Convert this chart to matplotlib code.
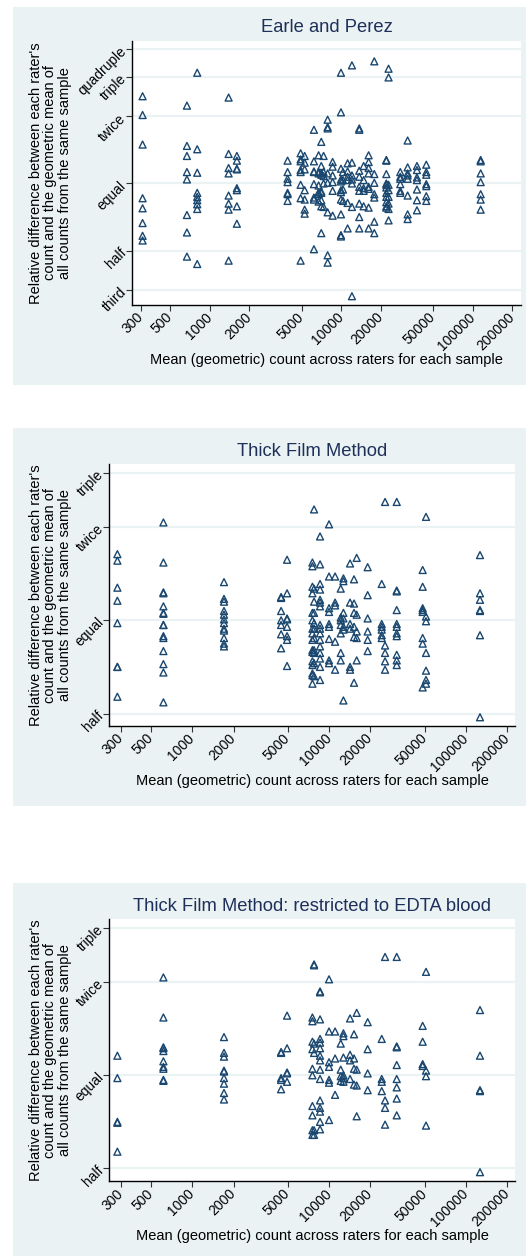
import numpy as np
import matplotlib
matplotlib.use('Agg')
import matplotlib.pyplot as plt
from matplotlib.patches import Rectangle
from matplotlib.ticker import FixedLocator, FixedFormatter, NullLocator

plt.rcParams['font.family'] = ['Liberation Sans', 'DejaVu Sans']

# ---------------- data ----------------
x_ticks = [300, 500, 1000, 2000, 5000, 10000, 20000, 50000, 100000, 200000]

ep_tick_ratios = [1/3, 1/2, 1, 2, 3, 4]
ep_tick_labels = ['third', 'half', 'equal', 'twice', 'triple', 'quadruple']
tf_tick_ratios = [1/2, 1, 2, 3]
tf_tick_labels = ['half', 'equal', 'twice', 'triple']

# Earle and Perez: sample geometric mean count and log2(rater count / geometric mean)
ep_counts = [307, 668, 800, 1387, 1603, 3900, 4900, 5260, 6190, 6720, 7040, 7330,
             7870, 8590, 9940, 10300, 11170, 12050, 13700, 14790, 16140, 17830,
             22020, 22900, 28120, 31990, 37670, 44360, 115100]
ep_log2 = [
    [1.30, 1.02, 0.58, -0.22, -0.37, -0.59, -0.78, -0.85],
    [1.16, 0.56, 0.41, 0.17, 0.06, -0.47, -0.73, -1.09],
    [1.65, 0.51, 0.16, -0.14, -0.20, -0.25, -0.31, -0.38, -1.20],
    [1.28, 0.44, 0.23, 0.15, -0.18, -0.30, -0.39, -1.15],
    [0.41, 0.34, 0.22, 0.21, -0.07, -0.10, -0.34, -0.60],
    [0.34, 0.17, 0.07, 0.02, -0.14, -0.16, -0.26],
    [0.45, 0.36, 0.33, 0.20, 0.17, -0.02, -0.22, -1.15],
    [0.41, 0.31, 0.21, -0.10, -0.24, -0.39, -0.45],
    [0.80, 0.33, 0.18, 0.17, -0.01, -0.21, -0.24, -0.98],
    [0.42, 0.17, 0.15, -0.03, -0.13, -0.16, -0.27],
    [0.62, 0.26, 0.15, 0.13, -0.12, -0.14, -0.25, -0.34, -0.74],
    [0.41, 0.17, 0.11, 0.00, -0.35],
    [0.95, 0.84, 0.82, 0.15, 0.01, -0.43, -1.07, -1.18],
    [0.32, 0.25, 0.12, 0.02, -0.11, -0.48],
    [1.65, 1.06, 0.22, 0.06, 0.03, -0.10, -0.13, -0.24, -0.46, -0.77, -0.79],
    [0.17, 0.05, -0.09, -0.26],
    [0.30, 0.18, 0.10, 0.05, -0.29, -0.67],
    [1.76, 0.31, 0.12, 0.06, 0.00, -0.35, -1.68],
    [0.82, 0.80, 0.19, 0.10, -0.05, -0.11, -0.30, -0.50, -0.67],
    [0.26, 0.05, -0.07, -0.11, -0.34],
    [0.42, 0.32, 0.23, 0.15, -0.05, -0.08, -0.36, -0.67],
    [1.82, 0.14, 0.01, -0.16, -0.21, -0.57, -0.74],
    [0.35, 0.34, 0.14, 0.00, -0.02, -0.06, -0.14, -0.20, -0.28, -0.34, -0.36],
    [1.71, 1.58, -0.02, -0.10, -0.20, -0.30, -0.38, -0.55],
    [0.17, 0.10, 0.07, -0.01, -0.11, -0.14],
    [0.64, 0.24, 0.15, 0.12, 0.07, -0.18, -0.46, -0.53],
    [0.26, 0.20, 0.09, 0.05, -0.09, -0.25, -0.40],
    [0.28, 0.17, 0.13, -0.01, -0.04, -0.19, -0.26],
    [0.35, 0.33, 0.15, 0.02, -0.16, -0.24, -0.39],
]

# Thick film method
tf_counts = [283, 614, 1702, 4450, 4920, 7540, 7750, 8570, 9970, 11040, 12140, 12700,
             14200, 15180, 15880, 19100, 24200, 25600, 31150, 48200, 51000, 126500]
tf_log2 = [
    [0.71, 0.64, 0.35, 0.21, -0.03, -0.50, -0.50, -0.82],
    [1.05, 0.62, 0.30, 0.29, 0.15, 0.08, 0.07, -0.05, -0.05, -0.17, -0.19, -0.33, -0.47, -0.56, -0.88],
    [0.41, 0.23, 0.20, 0.10, 0.06, 0.01, -0.03, -0.09, -0.11, -0.19, -0.25, -0.28],
    [0.25, 0.24, 0.10, 0.00, -0.05, -0.15, -0.30],
    [0.65, 0.29, 0.02, 0.01, -0.07, -0.17, -0.21, -0.49],
    [0.62, 0.58, 0.36, 0.29, 0.08, 0.00, -0.09, -0.14, -0.21, -0.32, -0.34, -0.44, -0.48, -0.57, -0.59, -0.68],
    [1.19, 0.34, 0.20, 0.08, -0.03, -0.09, -0.19, -0.32, -0.35, -0.46, -0.60],
    [0.90, 0.60, 0.39, 0.33, 0.22, 0.19, 0.15, -0.05, -0.09, -0.14, -0.21, -0.28, -0.35, -0.41, -0.50, -0.64],
    [1.03, 0.47, 0.13, 0.09, -0.04, -0.07, -0.20, -0.43, -0.46],
    [0.47, 0.19, 0.16, -0.23, -0.53],
    [0.34, 0.03, 0.00, -0.05, -0.14, -0.35, -0.43],
    [0.45, 0.42, 0.08, 0.02, -0.07, -0.10, -0.86],
    [0.61, 0.19, -0.04, -0.09, -0.50, -0.53],
    [0.44, 0.18, 0.08, -0.07, -0.18, -0.67],
    [0.67, 0.06, -0.12, -0.19, -0.43],
    [0.57, 0.27, 0.02, -0.12, -0.21, -0.33],
    [0.39, -0.04, -0.07, -0.10, -0.16, -0.19],
    [1.27, -0.27, -0.35, -0.44, -0.53],
    [1.27, 0.32, 0.31, 0.11, -0.04, -0.07, -0.14, -0.17, -0.37, -0.43, -0.48],
    [0.54, 0.36, 0.13, 0.11, 0.09, -0.19, -0.25, -0.72],
    [1.11, 0.04, -0.01, -0.35, -0.54, -0.64, -0.68],
    [0.70, 0.29, 0.22, 0.11, 0.10, -0.16, -1.04],
]

# Thick film method restricted to EDTA blood
edta_counts = tf_counts
edta_log2 = [
    [0.21, -0.03, -0.50, -0.51, -0.82],
    [1.05, 0.62, 0.30, 0.29, 0.26, 0.15, 0.09, 0.07, -0.05, -0.06],
    [0.41, 0.24, 0.20, 0.05, 0.04, -0.03, -0.09, -0.19, -0.26],
    [0.25, 0.24, -0.03, -0.05, -0.15],
    [0.64, 0.29, 0.03, 0.02, -0.07],
    [0.62, 0.58, 0.36, 0.28, 0.07, 0.00, -0.33, -0.43, -0.59, -0.64],
    [1.19, 1.18, 0.34, 0.24, -0.59, -0.64],
    [0.90, 0.89, 0.60, 0.39, 0.35, 0.29, 0.21, 0.16, 0.06, -0.04, -0.27, -0.35, -0.39, -0.50, -0.58],
    [1.03, 0.47, 0.14, 0.09, -0.05, -0.08, -0.48],
    [0.47, 0.18, -0.21],
    [0.34, 0.06, -0.01, -0.06],
    [0.45, 0.42, 0.19, 0.00, -0.03, -0.07],
    [0.61, 0.22, 0.16, -0.04],
    [0.44, 0.18, 0.07, -0.10],
    [0.67, 0.06, -0.11, -0.44],
    [0.57, 0.28, 0.02, -0.16],
    [0.39, -0.04, -0.07, -0.17],
    [1.27, -0.27, -0.35, -0.53],
    [1.27, 0.31, 0.30, 0.11, -0.04, -0.13, -0.25, -0.43],
    [0.53, 0.36, 0.12, 0.10],
    [1.11, 0.05, -0.01, -0.54],
    [0.70, 0.21, -0.16, -0.17, -1.04],
]

titles = ['Earle and Perez', 'Thick Film Method', 'Thick Film Method: restricted to EDTA blood']
xlabel = 'Mean (geometric) count across raters for each sample'
ylabel = "Relative difference between each rater's\ncount and the geometric mean of\nall counts from the same sample"

# ---------------- style / layout ----------------
W, H = 526, 1256
BG = '#eaf2f3'
MK = '#1a476f'
TITLE_C = '#1e2f5a'

fig = plt.figure(figsize=(W / 100, H / 100), dpi=100)
fig.patch.set_facecolor('white')


def px_rect(x0, y0, x1, y1):
    return [x0 / W, 1 - y1 / H, (x1 - x0) / W, (y1 - y0) / H]


# panel backgrounds (pixel boxes)
for (y0, y1) in [(7, 384.7), (427.7, 805.7), (882.7, 1256)]:
    r = px_rect(13, y0, 526, y1)
    fig.add_artist(Rectangle((r[0], r[1]), r[2], r[3], transform=fig.transFigure,
                             facecolor=BG, edgecolor='none', zorder=-10))

panels = [
    dict(box=(132, 41, 521, 305), counts=ep_counts, vals=ep_log2,
         xlim=(255, 233400), ylim=(-1.811, 2.123),
         tr=ep_tick_ratios, tl=ep_tick_labels, title=titles[0]),
    dict(box=(109.3, 464.3, 515, 726), counts=tf_counts, vals=tf_log2,
         xlim=(247, 228000), ylim=(-1.134, 1.674),
         tr=tf_tick_ratios, tl=tf_tick_labels, title=titles[1]),
    dict(box=(109.3, 919.3, 515, 1181.3), counts=edta_counts, vals=edta_log2,
         xlim=(247, 228000), ylim=(-1.138, 1.674),
         tr=tf_tick_ratios, tl=tf_tick_labels, title=titles[2]),
]

for p in panels:
    x0, y0, x1, y1 = p['box']
    ax = fig.add_axes(px_rect(x0, y0, x1, y1))
    ax.set_facecolor('white')
    xs = np.repeat(p['counts'], [len(v) for v in p['vals']])
    ys = np.concatenate([np.asarray(v, float) for v in p['vals']])
    ax.scatter(xs, ys, marker='^', s=25, facecolors='none', edgecolors=MK,
               linewidths=1.0, zorder=3)
    ax.set_xscale('log')
    ax.set_xlim(*p['xlim'])
    ax.set_ylim(*p['ylim'])
    ax.xaxis.set_major_locator(FixedLocator(x_ticks))
    ax.xaxis.set_major_formatter(FixedFormatter([str(t) for t in x_ticks]))
    ax.xaxis.set_minor_locator(NullLocator())
    ax.set_yticks(np.log2(p['tr']))
    ax.set_yticklabels(p['tl'])
    ax.yaxis.set_minor_locator(NullLocator())
    ax.set_axisbelow(True)
    ax.yaxis.grid(True, color=BG, lw=1.6)
    for s in ['top', 'right']:
        ax.spines[s].set_visible(False)
    for s in ['left', 'bottom']:
        ax.spines[s].set_color('black')
        ax.spines[s].set_linewidth(1.0)
    ax.tick_params(axis='both', direction='out', length=4.3, width=0.8,
                   color='#333333', labelsize=10, labelcolor='black')
    ax.tick_params(axis='y', pad=1.5)
    ax.tick_params(axis='x', pad=3)
    for lab in ax.get_yticklabels():
        lab.set_rotation(45)
        lab.set_ha('right')
        lab.set_va('center')
        lab.set_rotation_mode('anchor')
    for lab in ax.get_xticklabels():
        lab.set_rotation(45)
        lab.set_ha('right')
        lab.set_va('center')
        lab.set_rotation_mode('anchor')
    ax.annotate(p['title'], xy=(0.5, 1), xycoords='axes fraction',
                xytext=(0, 13 * 0.72), textcoords='offset points',
                ha='center', va='center', fontsize=13.2, color=TITLE_C)
    ax.annotate(xlabel, xy=(0.5, 0), xycoords='axes fraction',
                xytext=(0, -55 * 0.72), textcoords='offset points',
                ha='center', va='center', fontsize=10.5, color='black')
    fig.text(50.5 / W, 1 - ((y0 + y1) / 2) / H, ylabel, rotation=90,
             ha='center', va='center', multialignment='center',
             fontsize=10.5, linespacing=1.0, color='black')

fig.savefig('out.png', dpi=100, facecolor='white')
